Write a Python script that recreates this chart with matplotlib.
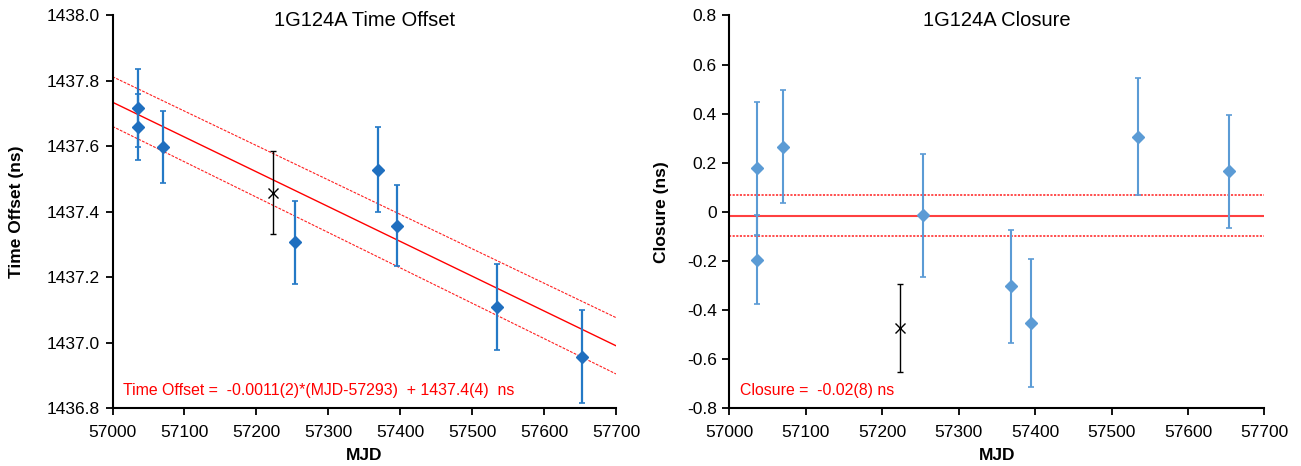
import matplotlib
matplotlib.use('Agg')
import matplotlib.pyplot as plt
from matplotlib.ticker import FuncFormatter

# 数据准备 (blue = used in fit, black = excluded point)
mjd = [57036, 57036, 57070, 57253, 57369, 57395, 57535, 57653]
offset = [1437.718, 1437.660, 1437.599, 1437.307, 1437.529, 1437.358, 1437.109, 1436.958]
offset_err = [0.120, 0.100, 0.110, 0.127, 0.130, 0.124, 0.132, 0.141]
closure = [0.177, -0.194, 0.266, -0.014, -0.303, -0.452, 0.307, 0.166]
closure_err = [0.27, 0.18, 0.23, 0.25, 0.23, 0.26, 0.24, 0.23]

mjd_excl = [57223]
offset_excl = [1437.459]
offset_excl_err = [0.126]
closure_excl = [-0.473]
closure_excl_err = [0.18]

# fit lines (value at 57000 and 57700)
fit_mjd = [57000, 57700]
offset_fit = [1437.735, 1436.991]
offset_fit_hi = [1437.813, 1437.077]
offset_fit_lo = [1437.661, 1436.905]
closure_fit = [-0.015, -0.015]
closure_fit_hi = [0.067, 0.067]
closure_fit_lo = [-0.097, -0.097]

plt.rcParams['font.family'] = ['Liberation Sans', 'DejaVu Sans']
plt.rcParams['axes.unicode_minus'] = False

fig = plt.figure(figsize=(13.01, 4.66), dpi=100)
ax1 = fig.add_axes([0.0865, 0.1238, 0.387, 0.843])
ax2 = fig.add_axes([0.5607, 0.1238, 0.4112, 0.843])

# 左图: Time Offset
ax1.plot(fit_mjd, offset_fit, color='#FF0000', lw=1.0, zorder=1)
ax1.plot(fit_mjd, offset_fit_hi, color='#FF2020', lw=0.8, ls=(0, (2.5, 1.2)), zorder=1)
ax1.plot(fit_mjd, offset_fit_lo, color='#FF2020', lw=0.8, ls=(0, (2.5, 1.2)), zorder=1)
ax1.errorbar(mjd, offset, yerr=offset_err, fmt='D', ms=6.2, color='#1F6FBF',
             ecolor='#2479C6', elinewidth=1.6, capsize=2.5, capthick=1.2, zorder=3)
ax1.errorbar(mjd_excl, offset_excl, yerr=offset_excl_err, fmt='x', ms=7.5, color='black',
             mew=1.0, elinewidth=1.0, capsize=2.5, capthick=1.2, zorder=3)
ax1.set_xlim(57000, 57700)
ax1.set_ylim(1436.8, 1438.0)
ax1.set_yticks([1436.8, 1437.0, 1437.2, 1437.4, 1437.6, 1437.8, 1438.0])
ax1.yaxis.set_major_formatter(FuncFormatter(lambda v, p: '%.1f' % v))
ax1.text(0.5, 0.987, '1G124A Time Offset', transform=ax1.transAxes,
         ha='center', va='center', fontsize=14.5)
ax1.text(0.02, 0.045, 'Time Offset =  -0.0011(2)*(MJD-57293)  + 1437.4(4)  ns',
         transform=ax1.transAxes, color='#FF0000', fontsize=11.4, va='center')
ax1.set_ylabel('Time Offset (ns)', fontsize=12.5, fontweight='bold')
ax1.yaxis.set_label_coords(-0.176, 0.5)

# 右图: Closure
ax2.plot(fit_mjd, closure_fit, color='#FF4040', lw=1.5, zorder=1)
ax2.plot(fit_mjd, closure_fit_hi, color='#FF4040', lw=1.3, ls=(0, (1.2, 0.8)), zorder=1)
ax2.plot(fit_mjd, closure_fit_lo, color='#FF4040', lw=1.3, ls=(0, (1.2, 0.8)), zorder=1)
ax2.errorbar(mjd, closure, yerr=closure_err, fmt='D', ms=6.2, color='#5B9BD5',
             ecolor='#5B9BD5', elinewidth=1.5, capsize=2.5, capthick=1.2, zorder=3)
ax2.errorbar(mjd_excl, closure_excl, yerr=closure_excl_err, fmt='x', ms=7.5, color='black',
             mew=1.0, elinewidth=1.0, capsize=2.5, capthick=1.2, zorder=3)
ax2.set_xlim(57000, 57700)
ax2.set_ylim(-0.8, 0.8)
ax2.set_yticks([-0.8, -0.6, -0.4, -0.2, 0, 0.2, 0.4, 0.6, 0.8])
ax2.yaxis.set_major_formatter(FuncFormatter(lambda v, p: '0' if abs(v) < 1e-9 else '%.1f' % v))
ax2.text(0.5, 0.987, '1G124A Closure', transform=ax2.transAxes,
         ha='center', va='center', fontsize=14.5)
ax2.text(0.02, 0.045, 'Closure =  -0.02(8) ns',
         transform=ax2.transAxes, color='#FF0000', fontsize=11.4, va='center')
ax2.set_ylabel('Closure (ns)', fontsize=12.5, fontweight='bold')
ax2.yaxis.set_label_coords(-0.113, 0.5)

# 公共样式
for ax in (ax1, ax2):
    ax.set_xticks(range(57000, 57701, 100))
    ax.set_xlabel('MJD', fontsize=12.5, fontweight='bold')
    ax.xaxis.set_label_coords(0.5, -0.1)
    ax.spines['top'].set_visible(False)
    ax.spines['right'].set_visible(False)
    ax.spines['left'].set_linewidth(1.5)
    ax.spines['bottom'].set_linewidth(1.5)
    ax.tick_params(direction='out', length=5, width=1.3, labelsize=12.5, pad=4)
    ax.tick_params(axis='x', pad=7)

fig.savefig('out.png', dpi=100)
